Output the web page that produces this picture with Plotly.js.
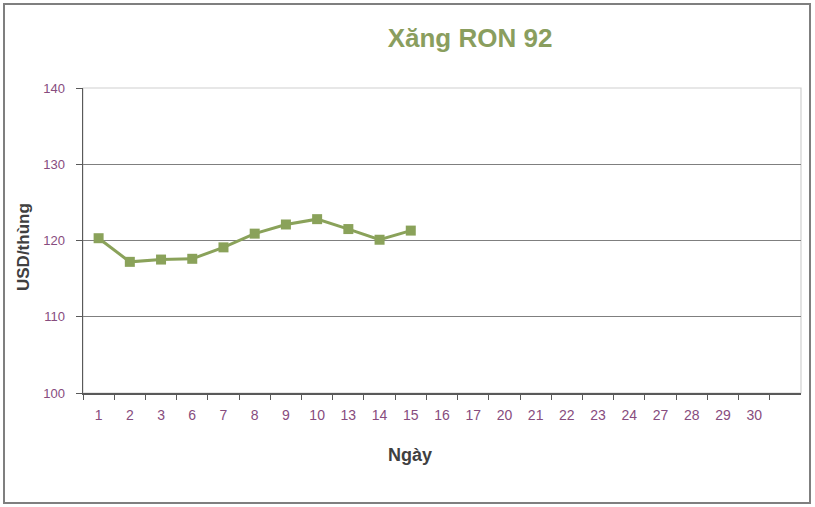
<!DOCTYPE html>
<html>
<head>
<meta charset="utf-8">
<script src="https://cdn.plot.ly/plotly-3.0.1.min.js"></script>
<style>
  html, body { margin: 0; padding: 0; background: #ffffff; }
  #chart { width: 815px; height: 507px; }
</style>
</head>
<body>
<div id="chart"></div>
<script>
// Tick labels (days of the month) on the category axis
const days = ["1","2","3","6","7","8","9","10","13","14","15","16","17","20","21","22","23","24","27","28","29","30"];
// Price series (USD/thùng) for the first days shown
const prices = [120.3, 117.2, 117.5, 117.6, 119.1, 120.9, 122.1, 122.8, 121.5, 120.1, 121.3];
const yTicks = [100, 110, 120, 130, 140];

const tickColor = "#874c7e";
const trace = {
  type: "scatter",
  mode: "lines+markers",
  x: days.slice(0, prices.length),
  y: prices,
  line: { color: "#8aa25a", width: 3 },
  marker: { symbol: "square", size: 10, color: "#8aa25a" },
  hoverinfo: "x+y"
};

const layout = {
  width: 815,
  height: 507,
  margin: { l: 83, r: 14, t: 88, b: 114 },
  paper_bgcolor: "#ffffff",
  plot_bgcolor: "#ffffff",
  showlegend: false,
  font: { family: "Liberation Sans, Arial, sans-serif", size: 12, color: tickColor },
  title: {
    text: "<b>Xăng RON 92</b>",
    font: { family: "Liberation Sans, Arial, sans-serif", size: 26, color: "#8a9e5e" },
    x: 470 / 815, xref: "container", xanchor: "center",
    y: 1 - 38 / 507, yref: "container", yanchor: "middle"
  },
  xaxis: {
    type: "category",
    categoryorder: "array",
    categoryarray: days,
    range: [-0.5, days.length + 0.5],
    tickson: "boundaries",
    ticks: "outside",
    ticklen: 5,
    tickcolor: "#595959",
    ticklabelstandoff: 9,
    showline: true,
    linecolor: "#595959",
    linewidth: 1.5,
    showgrid: false,
    zeroline: false,
    tickfont: { size: 14, color: tickColor },
    fixedrange: true
  },
  yaxis: {
    range: [100, 140],
    tickmode: "array",
    tickvals: yTicks,
    ticktext: yTicks.map(String),
    ticks: "outside",
    ticklen: 6,
    tickcolor: "#595959",
    ticklabelstandoff: 8,
    showline: true,
    linecolor: "#595959",
    linewidth: 1.5,
    showgrid: true,
    gridcolor: "#7f7f7f",
    gridwidth: 1.2,
    zeroline: false,
    tickfont: { size: 13, color: tickColor },
    fixedrange: true
  },
  annotations: [
    {
      text: "<b>Ngày</b>",
      xref: "paper", yref: "paper",
      x: (410 - 83) / 718, y: (393 - 455) / 305,
      xanchor: "center", yanchor: "middle",
      showarrow: false,
      font: { family: "Liberation Sans, Arial, sans-serif", size: 18, color: "#404040" }
    },
    {
      text: "<b>USD/thùng</b>",
      xref: "paper", yref: "paper",
      x: (23 - 83) / 718, y: (393 - 247) / 305,
      xanchor: "center", yanchor: "middle",
      textangle: -90,
      showarrow: false,
      font: { family: "Liberation Sans, Arial, sans-serif", size: 17, color: "#404040" }
    }
  ],
  shapes: [
    {
      type: "rect", xref: "paper", yref: "paper", layer: "below",
      x0: 0, x1: 1, y0: 0, y1: 1,
      line: { color: "#d0d0d0", width: 1.2 }
    },
    {
      type: "rect", xref: "paper", yref: "paper", layer: "above",
      x0: (4 - 83) / 718, x1: (810 - 83) / 718,
      y0: (393 - 503) / 305, y1: (393 - 4) / 305,
      line: { color: "#7f7f7f", width: 2 }
    }
  ]
};

Plotly.newPlot("chart", [trace], layout, { displayModeBar: false, staticPlot: true });
</script>
</body>
</html>
